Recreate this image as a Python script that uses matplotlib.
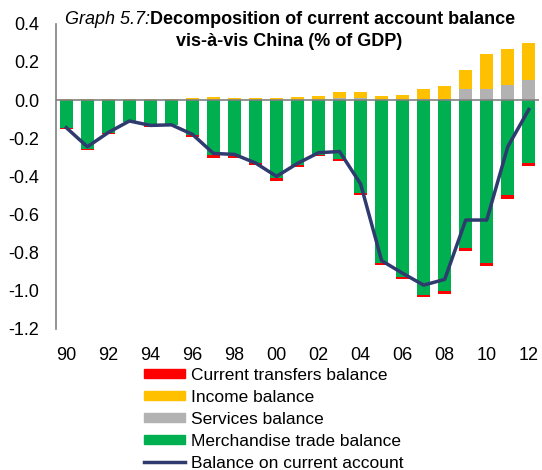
import matplotlib.pyplot as plt
import numpy as np
from matplotlib.lines import Line2D
from matplotlib.patches import Patch

plt.rcParams["font.family"] = ["Liberation Sans", "DejaVu Sans"]

years = ["90", "91", "92", "93", "94", "95", "96", "97", "98", "99", "00", "01",
         "02", "03", "04", "05", "06", "07", "08", "09", "10", "11", "12"]

merchandise = [-0.145, -0.255, -0.175, -0.113, -0.138, -0.130, -0.183, -0.288,
               -0.295, -0.330, -0.410, -0.340, -0.288, -0.310, -0.488, -0.855,
               -0.930, -1.020, -1.000, -0.777, -0.852, -0.500, -0.332]
transfers = [-0.008, -0.005, -0.005, -0.003, -0.003, -0.003, -0.010, -0.015,
             -0.008, -0.008, -0.015, -0.010, -0.008, -0.010, -0.010, -0.008,
             -0.010, -0.012, -0.015, -0.013, -0.020, -0.018, -0.014]
services = [0.0, 0.0, 0.0, 0.0, 0.0, 0.0, 0.0, 0.0, 0.0, 0.0, 0.0, 0.0,
            0.0, 0.012, 0.012, 0.0, 0.0, 0.003, 0.005, 0.056, 0.056, 0.080, 0.106]
income = [0.005, 0.005, 0.003, 0.005, 0.003, 0.005, 0.010, 0.017, 0.012, 0.008,
          0.012, 0.014, 0.021, 0.032, 0.032, 0.019, 0.024, 0.055, 0.068, 0.100,
          0.184, 0.189, 0.193]
current_account = [-0.145, -0.245, -0.170, -0.110, -0.133, -0.130, -0.180,
                   -0.280, -0.285, -0.330, -0.400, -0.332, -0.276, -0.270,
                   -0.440, -0.842, -0.908, -0.970, -0.940, -0.629, -0.629,
                   -0.245, -0.050]
y_ticks = [-1.2, -1.0, -0.8, -0.6, -0.4, -0.2, 0.0, 0.2, 0.4]

C_RED = "#FF0000"
C_YEL = "#FFC000"
C_GRAY = "#B2B2B2"
C_GREEN = "#00B050"
C_LINE = "#2F3A6E"

fig = plt.figure(figsize=(5.42, 4.70), dpi=100)
ax = fig.add_axes([0.103, 0.30, 0.892, 0.6496])

x = np.arange(len(years))
merch = np.array(merchandise)
w = 0.63
ax.bar(x, merch, w, color=C_GREEN, zorder=2)
ax.bar(x, transfers, w, bottom=merch, color=C_RED, zorder=2)
ax.bar(x, services, w, color=C_GRAY, zorder=2)
ax.bar(x, income, w, bottom=services, color=C_YEL, zorder=2)
ax.plot(x, current_account, color=C_LINE, lw=2.5, zorder=3)

ax.axhline(0, color="#808080", lw=1.2, zorder=2.5)

ax.set_xlim(-0.5, len(years) - 0.5)
ax.set_ylim(-1.2, 0.4)
ax.set_yticks(y_ticks)
ax.set_yticklabels([f"{v:.1f}" for v in y_ticks])
ax.set_xticks(x[::2])
ax.set_xticklabels(years[::2])
ax.tick_params(axis="both", length=0, labelsize=13)
ax.tick_params(axis="x", pad=13)
ax.tick_params(axis="y", pad=12)
for s in ["top", "right", "bottom"]:
    ax.spines[s].set_visible(False)
ax.spines["left"].set_color("#808080")
ax.spines["left"].set_linewidth(1.2)

# title: italic prefix + bold text
fig.text(150 / 542, 1 - 20 / 470, "Graph 5.7:", style="italic", fontsize=13,
         ha="right", va="center")
fig.text(150 / 542, 1 - 20 / 470, "Decomposition of current account balance",
         weight="bold", fontsize=13, ha="left", va="center")
fig.text(289 / 542, 1 - 42 / 470, "vis-à-vis China (% of GDP)",
         weight="bold", fontsize=13, ha="center", va="center")

handles = [
    Patch(color=C_RED, label="Current transfers balance"),
    Patch(color=C_YEL, label="Income balance"),
    Patch(color=C_GRAY, label="Services balance"),
    Patch(color=C_GREEN, label="Merchandise trade balance"),
    Line2D([], [], color=C_LINE, lw=2.5, label="Balance on current account"),
]
fig.legend(handles=handles, loc="upper left", bbox_to_anchor=(144 / 542, 1 - 368 / 470),
           frameon=False, fontsize=12.5, handlelength=2.36, handleheight=0.45,
           labelspacing=0.4, handletextpad=0.35, borderaxespad=0, borderpad=0)

fig.savefig("out.png", dpi=100)
